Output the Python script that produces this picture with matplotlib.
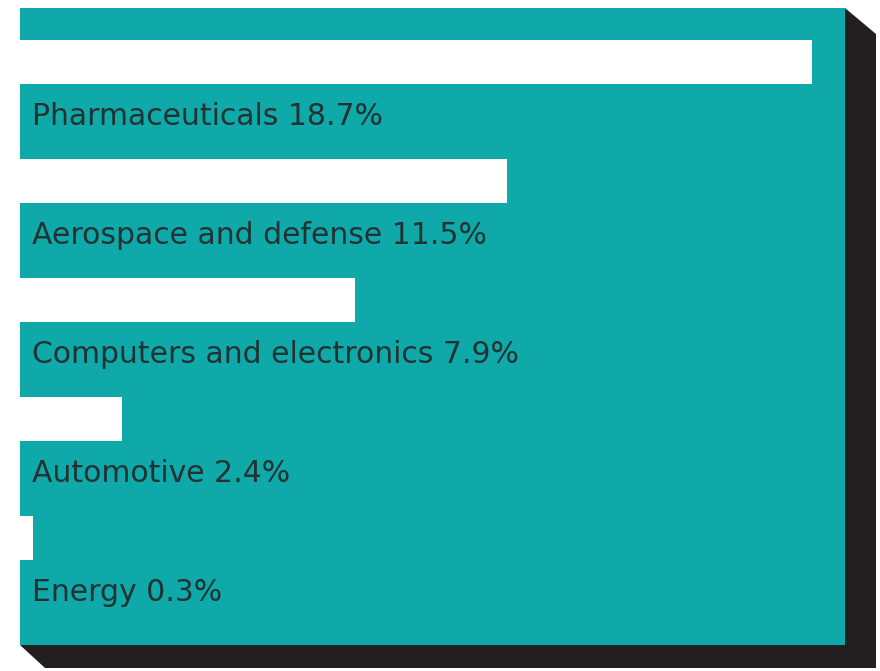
import matplotlib.pyplot as plt
from matplotlib.patches import Polygon

categories = ["Pharmaceuticals", "Aerospace and defense", "Computers and electronics",
              "Automotive", "Energy"]
shares = [18.7, 11.5, 7.9, 2.4, 0.3]

W, H = 880, 671
TEAL = "#0fa9a9"
SHADOW = "#231f20"

fig = plt.figure(figsize=(W / 100, H / 100), dpi=100)
fig.patch.set_facecolor("white")


def px(x, y):
    # pixel coords (origin top-left) -> figure fraction
    return (x / W, 1 - y / H)


# drop shadow behind the panel
shadow = Polygon([px(845, 8), px(876, 34), px(876, 668), px(45, 668), px(20, 645)],
                 closed=True, transform=fig.transFigure, facecolor=SHADOW,
                 edgecolor="none", zorder=-1)
fig.patches.append(shadow)

left, top, right, bottom = 20, 8, 845, 645
ax = fig.add_axes([left / W, 1 - bottom / H, (right - left) / W, (bottom - top) / H])
ax.set_zorder(1)
ax.set_facecolor(TEAL)

ypos = list(range(len(categories)))
ax.barh(ypos, shares, height=0.37, color="white", edgecolor="none")

for i, (cat, val) in enumerate(zip(categories, shares)):
    ax.text(0.28, i + 0.53, f"{cat} {val}%", fontsize=21.5, family="DejaVu Sans",
            color="#223232", va="baseline", ha="left")

ax.set_xlim(0, (right - left) / 42.35)
ax.set_ylim((bottom - 62) / 119, -(62 - top) / 119)
ax.set_xticks([])
ax.set_yticks([])
for s in ax.spines.values():
    s.set_visible(False)

fig.savefig("out.png", dpi=100)
